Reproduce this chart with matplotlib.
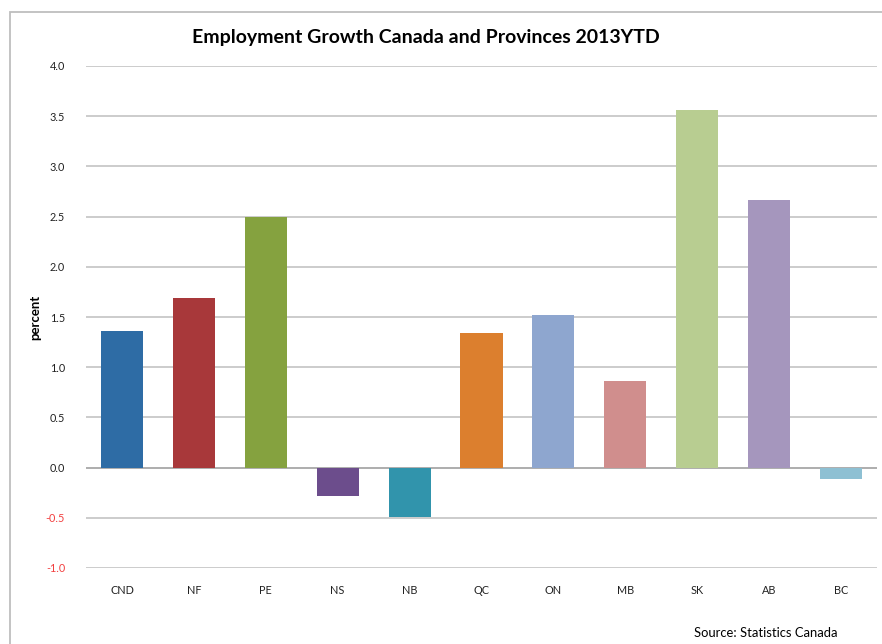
import matplotlib

matplotlib.use("Agg")
import matplotlib.pyplot as plt
from matplotlib.patches import Rectangle

W, H, DPI = 882, 644, 100

provinces = ["CND", "NF", "PE", "NS", "NB", "QC", "ON", "MB", "SK", "AB", "BC"]
growth = [1.36, 1.69, 2.50, -0.28, -0.49, 1.34, 1.52, 0.86, 3.56, 2.67, -0.11]
bar_colors = ["#2E6CA5", "#A8383A", "#85A23F", "#6C4D8C", "#3194AC", "#DC7F2E",
              "#8EA6CF", "#D08E8D", "#B8CD91", "#A596BD", "#8EC0D3"]
yticks = [-1.0, -0.5, 0.0, 0.5, 1.0, 1.5, 2.0, 2.5, 3.0, 3.5, 4.0]

plt.rcParams["font.family"] = ["Lato", "DejaVu Sans"]

fig = plt.figure(figsize=(W / DPI, H / DPI), dpi=DPI)
fig.patch.set_facecolor("white")

# chart-area frame (runs off the right/bottom edge)
fig.add_artist(Rectangle((10 / W, -0.05), 1.0, 1.05 - 12 / H, transform=fig.transFigure,
                         fill=False, edgecolor="#BEBEBE", linewidth=1.3))

ax = fig.add_axes([86 / W, 1 - 568 / H, (877 - 86) / W, (568 - 66) / H])
x = range(len(provinces))
ax.bar(x, growth, width=0.585, color=bar_colors, zorder=3)

ax.set_xlim(-0.5, len(provinces) - 0.5)
ax.set_ylim(-1.0, 4.0)
ax.set_yticks(yticks)
ax.set_yticklabels([f"{v:.1f}" for v in yticks], fontsize=7.8)
for lbl, v in zip(ax.get_yticklabels(), yticks):
    lbl.set_color("#F24040" if v < 0 else "#222222")
ax.set_xticks(list(x))
ax.set_xticklabels(provinces, fontsize=7.8, color="#222222")
ax.tick_params(axis="both", length=0)
ax.tick_params(axis="y", pad=15)
ax.tick_params(axis="x", pad=12)

ax.grid(axis="y", color="#C4C4C4", linewidth=1.2, zorder=0)
ax.axhline(0, color="#ACACAC", linewidth=1.3, zorder=2)
for s in ax.spines.values():
    s.set_visible(False)

fig.text(35 / W, 1 - 317 / H, "percent", rotation=90, ha="center", va="center",
         fontsize=9.5, fontweight="bold", color="black")

fig.text(426 / W, 1 - 38 / H, "Employment Growth Canada and Provinces 2013YTD",
         ha="center", va="center", fontsize=14, fontweight="bold", color="black")
fig.text(838 / W, 1 - 633 / H, "Source: Statistics Canada", ha="right", va="center",
         fontsize=9.4, color="black")

fig.savefig("out.png", dpi=DPI)
